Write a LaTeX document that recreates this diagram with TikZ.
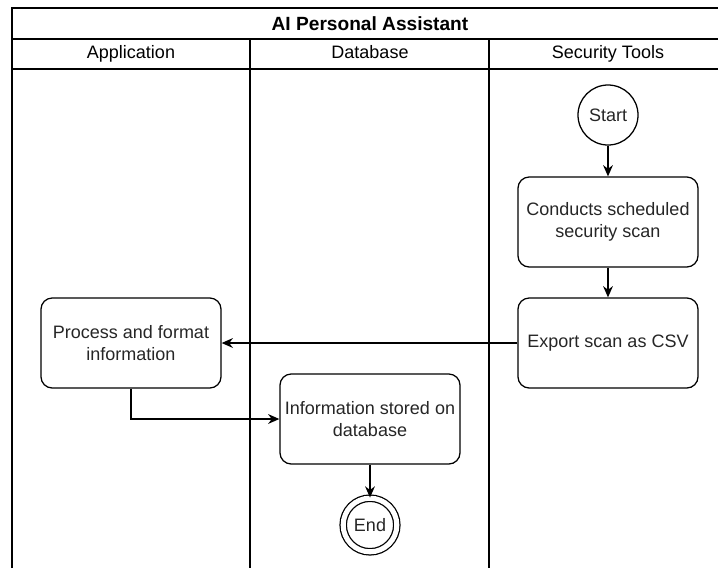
\documentclass[tikz,border=0pt]{standalone}
\usepackage{fontspec}
\setmainfont{Liberation Sans}
\usetikzlibrary{arrows.meta}
\tikzset{
  lane/.style={line width=1.1pt},
  header/.style={font=\fontsize{12.8}{15.5}\selectfont, text height=1.6ex, text depth=0.45ex},
  stepbox/.style={draw, rounded corners=8pt, line width=0.9pt,
    minimum width=4.5cm, minimum height=2.25cm, align=center,
    text=black!85, font=\fontsize{12.8}{15.5}\selectfont},
  terminal/.style={draw, circle, line width=0.9pt, minimum size=1.5cm,
    inner sep=0pt, text=black!85, font=\fontsize{12.8}{15.5}\selectfont},
  flow/.style={-{Stealth[length=8pt,width=7pt]}, line width=0.9pt},
}
\begin{document}
\begin{tikzpicture}[x=0.025cm, y=-0.025cm]
  \useasboundingbox (0,0) rectangle (718,568);
  % pool frame and lanes
  \draw[lane] (12,568) -- (12,8) -- (727,8);
  \draw[lane] (12,39) -- (727,39);
  \draw[lane] (12,69) -- (727,69);
  \draw[lane] (250,39) -- (250,568);
  \draw[lane] (489,39) -- (489,568);
  % pool title and lane headers
  \node[font=\bfseries\fontsize{13.6}{16}\selectfont] (pool) at (370,23.5) {AI Personal Assistant};
  \node[header] (appLane) at (131,54) {Application};
  \node[header] (dbLane) at (370,54) {Database};
  \node[header] (secLane) at (608,54) {Security Tools};
  % security tools lane
  \node[terminal] (start) at (608,115) {Start};
  \node[stepbox] (scan) at (608,222) {Conducts scheduled\\security scan};
  \node[stepbox] (export) at (608,343) {Export scan as CSV};
  % application lane
  \node[stepbox] (process) at (131,343) {Process and format\\information};
  % database lane
  \node[stepbox] (store) at (370,419) {Information stored on\\database};
  \node[terminal, double, double distance=3.6pt, minimum size=1.34cm] (end) at (370,525) {End};
  % flows
  \draw[flow] (start) -- (scan);
  \draw[flow] (scan) -- (export);
  \draw[flow] (export) -- (process);
  \draw[flow] (process.south) |- (store.west);
  \draw[flow] (store) -- (end);
\end{tikzpicture}
\end{document}
